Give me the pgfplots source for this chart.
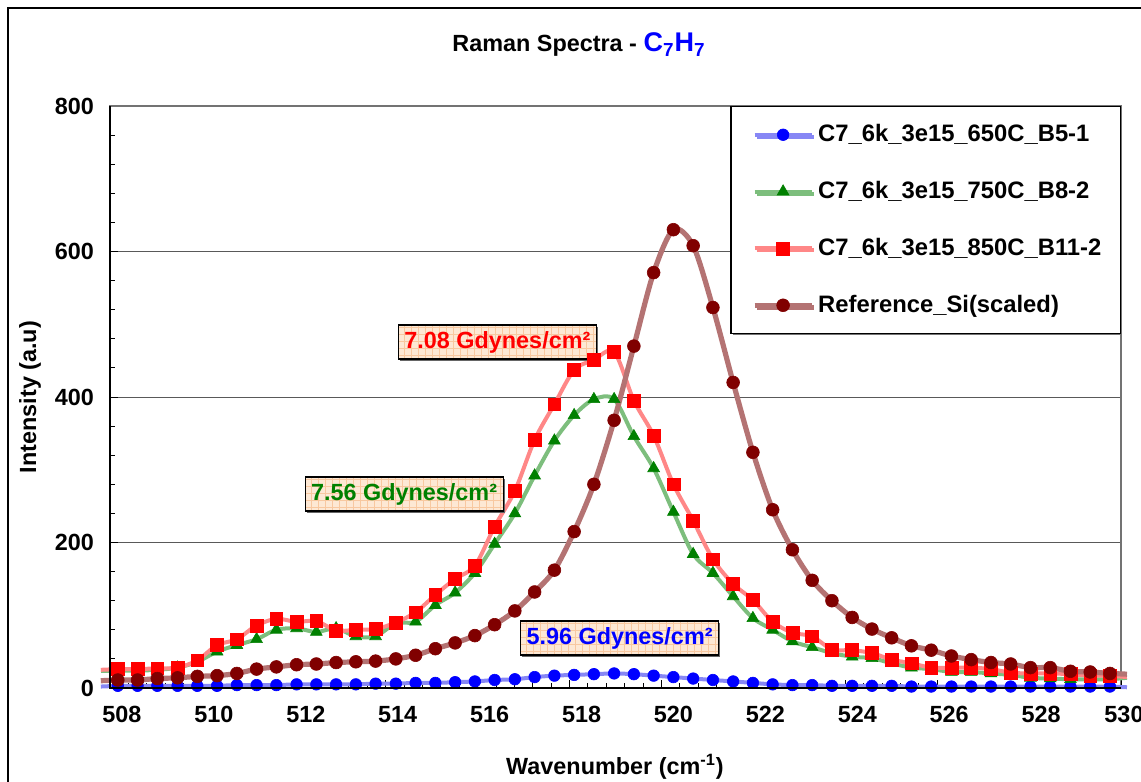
\documentclass[border=0pt]{standalone}
\usepackage{pgfplots}
\pgfplotsset{compat=1.18}
\usepackage{pgfplotstable}
\usepackage{fontspec}
\setmainfont{Liberation Sans}
\usetikzlibrary{shadows}

\definecolor{mkblue}{RGB}{0,0,255}
\definecolor{mkgreen}{RGB}{0,128,0}
\definecolor{mkred}{RGB}{255,0,0}
\definecolor{mkbrown}{RGB}{128,0,0}
\definecolor{lnblue}{RGB}{135,135,245}
\definecolor{lngreen}{RGB}{125,190,125}
\definecolor{lnred}{RGB}{255,135,135}
\definecolor{lnbrown}{RGB}{180,115,115}
\definecolor{peach}{RGB}{253,232,212}
\definecolor{peachgrid}{RGB}{248,200,160}

% Raman intensities of the three anneals and the scaled Si reference
\pgfplotstableread{
x      blue green red ref
508.17 3    24    26  11
508.60 3    24    26  11
509.03 3    25    27  13
509.47 3    28    28  14
509.90 3    36    38  16
510.33 3    50    59  17
510.76 4    59    67  20
511.19 4    67    86  26
511.62 4    80    95  29
512.06 5    82    91  32
512.49 5    77    92  33
512.92 5    82    79  35
513.35 5    71    80  36
513.78 6    71    81  37
514.22 6    89    90  40
514.65 7    91    104 45
515.08 7    114   128 54
515.51 8    131   150 62
515.94 9    158   168 72
516.37 11   198   222 87
516.81 12   240   271 106
517.24 15   292   341 132
517.67 17   340   390 162
518.10 18   375   437 215
518.53 19   397   451 280
518.97 20   397   462 368
519.40 19   346   395 470
519.83 17   302   347 571
520.26 15   242   280 630
520.69 13   184   230 608
521.12 11   158   177 523
521.56 9    126   143 420
521.99 7    96    121 324
522.42 5    80    91  245
522.85 4    64    76  190
523.28 4    56    71  148
523.71 3    48    53  120
524.15 3    43    52  97
524.58 3    41    48  81
525.01 3    34    39  69
525.44 2    28    34  58
525.87 2    26    28  52
526.31 2    22    28  44
526.74 2    22    28  39
527.17 2    20    26  35
527.60 2    18    21  33
528.03 2    14    20  28
528.46 2    13    20  28
528.90 2    12    19  23
529.33 2    12    17  22
529.76 2    12    17  20
}\spectra

% line ends that run just past the axis edges
\pgfplotstableread{
x      blue green red ref
507.80 2    24    25  10
508.17 3    24    26  11
}\leftend
\pgfplotstableread{
x      blue green red ref
529.76 2    12    17  20
530.13 1    14    15  19
}\rightend

\newcommand{\chartfont}{\bfseries\fontsize{11.7}{14}\selectfont}
\newcommand{\legfont}{\bfseries\fontsize{11.9}{14}\selectfont}

\tikzset{
  annot/.style={draw=black, line width=0.6pt, fill=peach,
    inner xsep=3pt, inner ysep=2pt, minimum height=17pt, font=\chartfont,
    drop shadow={shadow xshift=0.8pt, shadow yshift=-0.8pt, fill=black!60, opacity=1},
    path picture={\draw[peachgrid, line width=0.3pt, step=3.5pt]
      (path picture bounding box.south west) grid (path picture bounding box.north east);}},
  lineB/.style={lnblue, line width=2pt, smooth},
  lineG/.style={lngreen, line width=2pt, smooth},
  lineR/.style={lnred, line width=2pt, smooth},
  lineS/.style={lnbrown, line width=2.6pt, smooth},
  markB/.style={mark=*, mark size=2.9pt, mark options={draw=mkblue, fill=mkblue, line width=0.3pt}},
  markG/.style={mark=triangle*, mark size=3.4pt, mark options={draw=mkgreen, fill=mkgreen, line width=0.3pt}},
  markR/.style={mark=square*, mark size=3.2pt, mark options={draw=mkred, fill=mkred, line width=0.3pt}},
  markS/.style={mark=*, mark size=3.2pt, mark options={draw=mkbrown, fill=mkbrown, line width=0.3pt}},
}

\begin{document}
\begin{tikzpicture}
\path[use as bounding box] (0pt,0pt) rectangle (570.5pt,391pt);
\draw[black, line width=0.6pt] (4pt,0pt) -- (4pt,387pt) -- (570.5pt,387pt);

\node[font=\chartfont] at (289.5pt,368.5pt)
  {Raman Spectra - \textcolor{mkblue}{\fontsize{13.5}{16}\selectfont C\textsubscript{7}H\textsubscript{7}}};

\begin{axis}[
  at={(55pt,47pt)}, anchor=south west,
  scale only axis, width=505.5pt, height=291pt,
  xmin=508, xmax=530, ymin=0, ymax=800,
  xtick={508,510,...,528}, ytick={0,200,...,800},
  extra x ticks={530},
  extra x tick style={xticklabel style={xshift=-4.5pt}},
  minor x tick num=4, minor y tick num=4,
  xtick pos=left, ytick pos=left,
  tick align=inside, major tick length=4pt, minor tick length=2.5pt,
  tick style={black, line width=0.5pt},
  ymajorgrids, major grid style={black!65, line width=0.5pt},
  axis line style={draw=black!55, line width=0.6pt},
  ticklabel style={font=\chartfont},
  /pgf/number format/assume math mode=true,
  xticklabel style={yshift=-5.5pt, xshift=6pt},
  yticklabel style={xshift=-4.5pt},
  clip=false,
  legend style={at={(1,1)}, anchor=north east, draw=black, fill=white,
    line width=0.6pt, font=\legfont, inner xsep=7.5pt, inner ysep=7pt,
    row sep=14.3pt,
    drop shadow={shadow xshift=1pt, shadow yshift=-1pt, fill=black!55, opacity=1}},
  legend cell align=left,
  legend image code/.code={\path (-3pt,0pt);
    \draw[mark repeat=2,mark phase=2,#1]
    plot coordinates {(0pt,0pt) (14.25pt,0pt) (28.5pt,0pt)};},
  after end axis/.code={
    \draw[black, line width=0.7pt] (rel axis cs:0,1) -- (rel axis cs:0,0) -- (rel axis cs:1,0);
  },
]
% each series: short end pieces, the smoothed line with its marks
\addplot[lineB, forget plot] table[x=x, y=blue] {\leftend};
\addplot[lineB, forget plot] table[x=x, y=blue] {\rightend};
\addplot[lineB, markB] table[x=x, y=blue] {\spectra};
\addlegendentry{C7\_6k\_3e15\_650C\_B5-1}

\addplot[lineG, forget plot] table[x=x, y=green] {\leftend};
\addplot[lineG, forget plot] table[x=x, y=green] {\rightend};
\addplot[lineG, markG] table[x=x, y=green] {\spectra};
\addlegendentry{C7\_6k\_3e15\_750C\_B8-2}

\addplot[lineR, forget plot] table[x=x, y=red] {\leftend};
\addplot[lineR, forget plot] table[x=x, y=red] {\rightend};
\addplot[lineR, markR] table[x=x, y=red] {\spectra};
\addlegendentry{C7\_6k\_3e15\_850C\_B11-2}

\addplot[lineS, forget plot] table[x=x, y=ref] {\leftend};
\addplot[lineS, forget plot] table[x=x, y=ref] {\rightend};
\addplot[lineS, markS] table[x=x, y=ref] {\spectra};
\addlegendentry{Reference\_Si(scaled)}

\node[annot, text=mkred] at (axis cs:516.43,475.6) {7.08 Gdynes/cm²};
\node[annot, text=mkgreen] at (axis cs:514.40,266.7) {7.56 Gdynes/cm²};
\node[annot, text=mkblue] at (axis cs:519.09,68.7) {5.96 Gdynes/cm²};
\end{axis}

\node[font=\chartfont, rotate=90] at (15pt,192.5pt) {Intensity (a.u)};
\node[font=\chartfont] at (307.5pt,7.5pt) {Wavenumber (cm\textsuperscript{-1})};
\end{tikzpicture}
\end{document}
